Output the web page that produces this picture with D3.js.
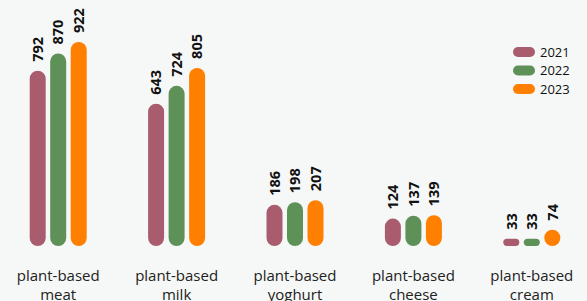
<!DOCTYPE html>
<html lang="en">
<head>
  <meta charset="UTF-8" />
  <title>Plant-based sales</title>
  <script src="https://d3js.org/d3.v7.min.js"></script>
  <style>
    body {
      margin: 0;
      padding: 0;
      background: #f6f8f7;
      font-family: "Open Sans", sans-serif;
    }
  </style>
</head>
<body>
<div id="chart"></div>
<script>
  // Data
  const categories = ["plant-based meat", "plant-based milk", "plant-based yoghurt", "plant-based cheese", "plant-based cream"];
  const years = ["2021", "2022", "2023"];
  const values2021 = [792, 643, 186, 124, 33];
  const values2022 = [870, 724, 198, 137, 33];
  const values2023 = [922, 805, 207, 139, 74];
  const colors = ["#a85c6d", "#5e9158", "#ff7f00"];

  const width = 587, height = 301;
  const series = [values2021, values2022, values2023];

  const svg = d3.select("#chart").append("svg")
    .attr("width", width)
    .attr("height", height);

  const x0 = d3.scaleBand()
    .domain(categories)
    .range([-1, 591]);

  const x1 = d3.scaleBand()
    .domain(years)
    .range([-28.5, 28.5])
    .paddingInner(0.22);

  const y = d3.scaleLinear()
    .domain([0, 922])
    .range([246, 42]);

  const color = d3.scaleOrdinal().domain(years).range(colors);

  const rows = [];
  categories.forEach((c, i) => {
    years.forEach((yr, j) => rows.push({ cat: c, year: yr, value: series[j][i] }));
  });

  const cx = d => x0(d.cat) + x0.bandwidth() / 2 + x1(d.year);
  const bw = x1.bandwidth();

  // Bars (rounded pills)
  svg.selectAll("rect.bar")
    .data(rows)
    .join("rect")
    .attr("class", "bar")
    .attr("x", d => cx(d))
    .attr("y", d => y(d.value))
    .attr("width", bw)
    .attr("height", d => y(0) - y(d.value))
    .attr("rx", d => Math.min(bw / 2, (y(0) - y(d.value)) / 2))
    .attr("fill", d => color(d.year));

  // Value labels
  svg.selectAll("text.val")
    .data(rows)
    .join("text")
    .attr("class", "val")
    .attr("transform", d => `translate(${cx(d) + bw / 2}, ${y(d.value) - 9}) rotate(-90)`)
    .attr("dy", "0.36em")
    .attr("text-anchor", "start")
    .style("font-size", "14.5px")
    .style("font-weight", "bold")
    .style("fill", "#111")
    .text(d => d.value);

  // Category labels
  const lab = svg.selectAll("text.cat")
    .data(categories)
    .join("text")
    .attr("class", "cat")
    .attr("text-anchor", "middle")
    .style("font-size", "15px")
    .style("fill", "#222")
    .attr("x", d => x0(d) + x0.bandwidth() / 2)
    .attr("y", 281);
  lab.selectAll("tspan")
    .data(d => { const k = d.indexOf(" "); return [d.slice(0, k), d.slice(k + 1)]; })
    .join("tspan")
    .attr("x", function () { return d3.select(this.parentNode).attr("x"); })
    .attr("dy", (d, i) => i ? 19 : 0)
    .text(d => d);

  // Legend
  const legend = svg.append("g").attr("transform", "translate(513, 47)");
  const item = legend.selectAll("g")
    .data(years)
    .join("g")
    .attr("transform", (d, i) => `translate(0, ${i * 18.5})`);
  item.append("rect")
    .attr("width", 22)
    .attr("height", 10)
    .attr("rx", 5)
    .attr("fill", d => color(d));
  item.append("text")
    .attr("x", 27)
    .attr("y", 5)
    .attr("dy", "0.35em")
    .style("font-size", "13px")
    .style("fill", "#111")
    .text(d => d);
</script>
</body>
</html>
